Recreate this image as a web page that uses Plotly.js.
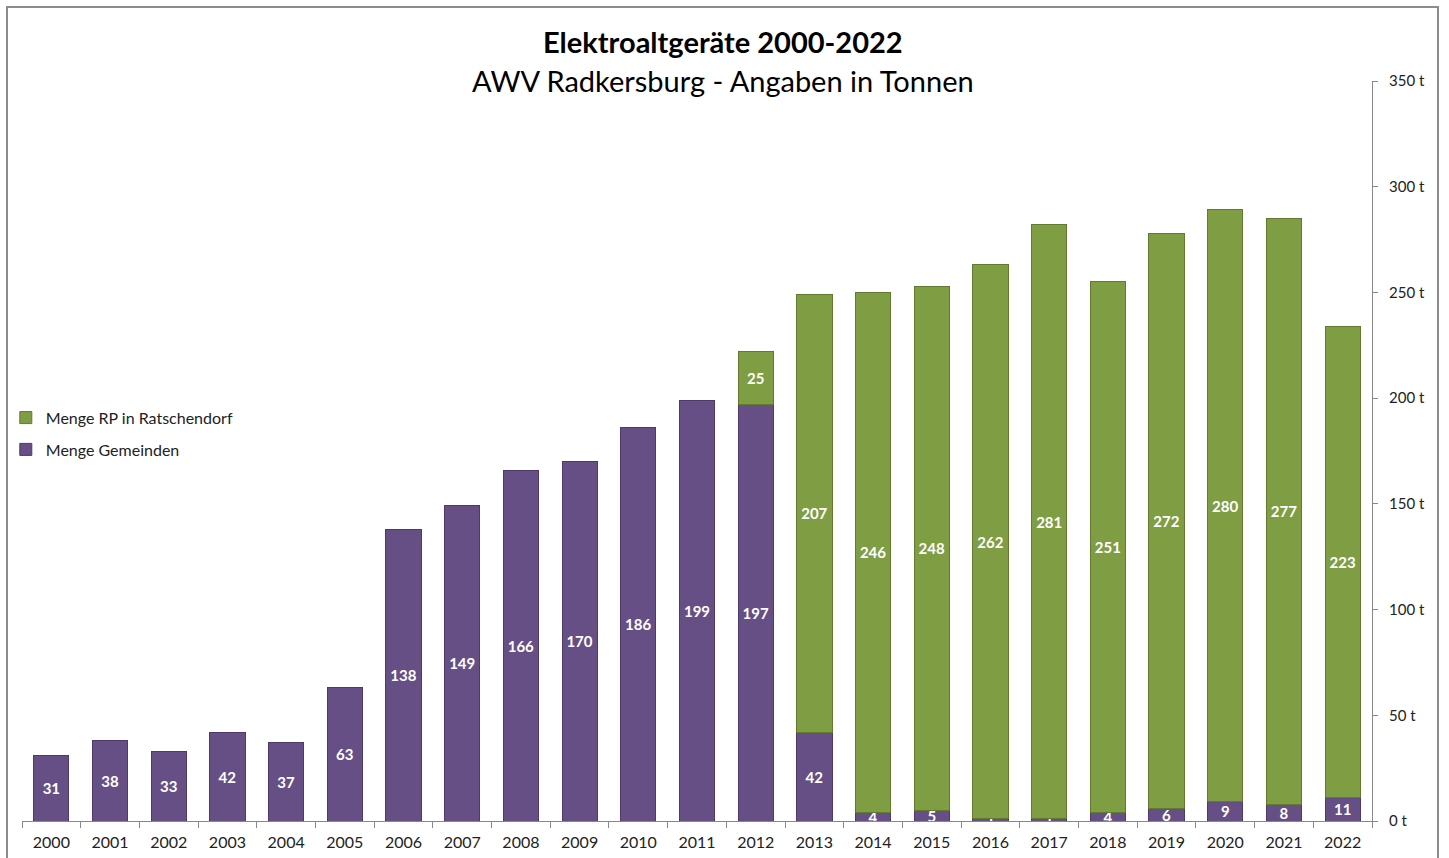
<!DOCTYPE html>
<html><head><meta charset="utf-8">
<script src="https://cdn.plot.ly/plotly-3.0.1.min.js"></script>
<style>
html,body{margin:0;padding:0;background:#fff;}
#chart{position:absolute;left:0;top:0;width:1449px;height:858px;}
#frame{position:absolute;left:6px;top:6px;width:1433px;height:870px;border:2px solid #8c8c8c;pointer-events:none;box-sizing:border-box;}
</style></head>
<body>
<div id="chart"></div>
<div id="frame"></div>
<script>
const years = ['2000','2001','2002','2003','2004','2005','2006','2007','2008','2009','2010','2011','2012','2013','2014','2015','2016','2017','2018','2019','2020','2021','2022'];
const mengeGemeinden = [31,38,33,42,37,63,138,149,166,170,186,199,197,42,4,5,1,1,4,6,9,8,11];
const mengeRP = [null,null,null,null,null,null,null,null,null,null,null,null,25,207,246,248,262,281,251,272,280,277,223];
const yTicks = [0,50,100,150,200,250,300,350];

const FONT = 'Lato, "Open Sans", sans-serif';
const purple = '#664f85';
const green = '#7f9d43';

const common = {
  type:'bar', x: years,
  textposition:'inside', insidetextanchor:'middle', constraintext:'none', textangle:0,
  textfont:{family:FONT, size:15, color:'#ffffff', weight:'bold'},
  hoverinfo:'x+y+name'
};
const traces = [
  Object.assign({}, common, {name:'Menge Gemeinden', legendgroup:'g', legendrank:2, y: mengeGemeinden, text: mengeGemeinden.map(String),
    marker:{color:purple, line:{color:'#4e3a6a', width:1}}}),
  Object.assign({}, common, {name:'Menge RP in Ratschendorf', legendgroup:'r', legendrank:1, y: mengeRP, text: mengeRP.map(v => v==null ? '' : String(v)),
    marker:{color:green, line:{color:'#627a30', width:1}}})
];

const layout = {
  width:1449, height:858,
  margin:{l:22, r:77, t:81, b:37, autoexpand:false},
  paper_bgcolor:'#ffffff', plot_bgcolor:'#ffffff',
  barmode:'stack', bargap:0.4,
  font:{family:FONT, color:'#222'},
  showlegend:true,
  legend:{x:-0.012, y:0.568, xanchor:'left', yanchor:'top', traceorder:'grouped',
    font:{family:FONT, size:16, color:'#222'}, itemwidth:30, tracegroupgap:8, bgcolor:'rgba(0,0,0,0)'},
  xaxis:{type:'category', tickson:'boundaries', ticks:'outside', ticklen:6, tickcolor:'#888',
    showline:true, linecolor:'#888', linewidth:1, showgrid:false, ticklabelstandoff:7, automargin:false,
    tickfont:{family:FONT, size:16, color:'#222'}, fixedrange:true},
  yaxis:{side:'right', range:[0,350], tickvals:yTicks, ticktext: yTicks.map(v => v + ' t'),
    ticks:'outside', ticklen:5, tickcolor:'#888', showline:true, linecolor:'#888', linewidth:1,
    showgrid:false, zeroline:false, ticklabelstandoff:8, automargin:false,
    tickfont:{family:FONT, size:15, color:'#222'}, fixedrange:true},
  annotations:[
    {xref:'paper', yref:'paper', x:0.5193, y:1, yshift:40, xanchor:'center', yanchor:'middle', showarrow:false,
     text:'<b>Elektroaltgeräte 2000-2022</b>', font:{family:FONT, size:29, color:'#000'}},
    {xref:'paper', yref:'paper', x:0.5193, y:1, yshift:1, xanchor:'center', yanchor:'middle', showarrow:false,
     text:'AWV Radkersburg - Angaben in Tonnen', font:{family:FONT, size:29, color:'#000'}}
  ]
};
Plotly.newPlot('chart', traces, layout, {displayModeBar:false, staticPlot:true});
</script>
</body></html>
